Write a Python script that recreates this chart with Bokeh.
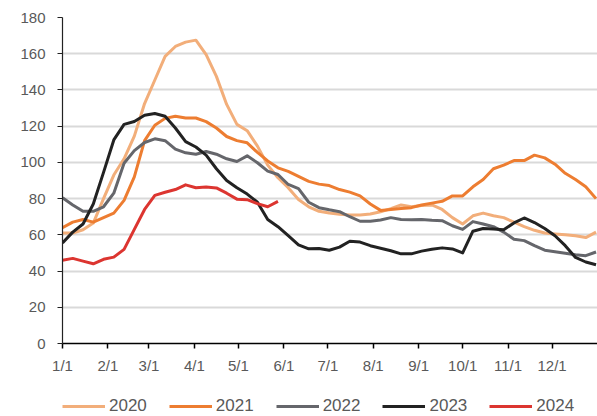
from bokeh.plotting import figure
from bokeh.models import Range1d, FixedTicker, Legend, LegendItem
from bokeh.layouts import column
from bokeh.embed import file_html
from bokeh.resources import INLINE

# weekly observations, x = day of year
weeks = [0, 7, 14, 21, 28, 35, 42, 49, 56, 63, 70, 77, 84, 91, 98, 105, 112, 119, 126,
         133, 140, 147, 154, 161, 168, 175, 182, 189, 196, 203, 210, 217, 224, 231, 238,
         245, 252, 259, 266, 273, 280, 287, 294, 301, 308, 315, 322, 329, 336, 343, 350,
         357, 364]

s2020 = [61, 61, 62.8, 66.5, 80, 93, 102, 114.5, 132.5, 145.5, 158.5, 164, 166.4, 167.5,
         159.5, 147.5, 132, 121, 117.5, 109, 98.5, 91.5, 86, 79.5, 75.5, 73, 72, 71.4, 71,
         71, 71.5, 72.7, 74.5, 76.5, 75.5, 76.2, 76.5, 74, 69.5, 66, 70.5, 72, 70.5, 69.5,
         67, 64.5, 62.5, 61, 60.5, 60, 59.5, 58.5, 61.5]
s2021 = [64, 67, 68.5, 67, 69.5, 72, 79, 92, 112, 120.5, 124.3, 125.5, 124.5, 124.5,
         122.5, 119, 114.3, 112, 110.8, 105.5, 100.8, 97, 95, 92.3, 89.5, 88, 87.2, 85,
         83.6, 81.5, 77, 73.5, 74, 74.5, 75, 76.5, 77.5, 78.5, 81.5, 81.5, 86.5, 90.5,
         96.5, 98.5, 101, 101, 104, 102.5, 99, 94, 90.5, 86.5, 80]
s2022 = [80.5, 76.5, 73, 73, 75.5, 83, 99.5, 106.5, 111, 113, 112, 107.3, 105.3, 104.5,
         106, 104.5, 102, 100.5, 103.6, 99.8, 95.2, 93.3, 87.8, 85.5, 78, 75, 73.8, 72.8,
         70, 67.5, 67.5, 68.2, 69.5, 68.5, 68.3, 68.5, 68, 67.8, 65, 63, 67.3, 66, 64.5,
         61.5, 57.6, 56.8, 54, 51.5, 50.7, 49.8, 49, 48.5, 50.5]
s2023 = [55.5, 61.5, 66, 77, 94.5, 112.4, 121, 122.6, 126, 127, 125.5, 119, 111.5, 108.5,
         104, 96.5, 90, 86, 82.5, 78, 68.5, 64.5, 59.5, 54.5, 52.3, 52.5, 51.5, 53.2, 56.5,
         56, 54, 52.6, 51.2, 49.5, 49.5, 51, 52, 52.8, 52.2, 50, 62, 63.5, 63.2, 62.8,
         66.6, 69.3, 66.8, 63.5, 59.5, 54, 47.5, 45, 43.5]
s2024 = [46, 47, 45.5, 44, 46.5, 47.7, 52, 63, 74, 81.8, 83.5, 85, 87.6, 86, 86.4, 85.9,
         83, 79.7, 79.4, 77.2, 75.5, 78.5]

years = ["2020", "2021", "2022", "2023", "2024"]
series = [s2020, s2021, s2022, s2023, s2024]
colors = ["#F2AE7A", "#ED7D31", "#65666B", "#222222", "#DC3530"]

month_ticks = [0, 31, 59, 90, 120, 151, 181, 212, 243, 273, 304, 334]
month_labels = ["1/1", "2/1", "3/1", "4/1", "5/1", "6/1", "7/1", "8/1", "9/1", "10/1",
                "11/1", "12/1"]
y_ticks = [0, 20, 40, 60, 80, 100, 120, 140, 160, 180]

FONT = "Liberation Sans"
TXT = "#595959"

p = figure(width=597, height=376, output_backend="svg", toolbar_location=None,
           x_range=Range1d(0, 365), y_range=Range1d(0, 180),
           min_border_left=62, min_border_right=0, min_border_top=17,
           min_border_bottom=31)
p.outline_line_color = None
p.background_fill_color = "white"
p.border_fill_color = "white"

for s, c in zip(series, colors):
    p.line(weeks[:len(s)], s, line_color=c, line_width=3, line_join="round")

# axes
p.xaxis.ticker = FixedTicker(ticks=month_ticks)
p.xaxis.major_label_overrides = {t: l for t, l in zip(month_ticks, month_labels)}
p.xaxis.minor_tick_line_color = None
p.xaxis.major_tick_in = 0
p.xaxis.major_tick_out = 5
p.xaxis.axis_line_color = "#000000"
p.xaxis.axis_line_width = 1.5
p.xaxis.major_tick_line_color = "#000000"
p.xaxis.major_tick_line_width = 1.5
p.xaxis.major_label_standoff = 8
p.xaxis.major_label_text_font = FONT
p.xaxis.major_label_text_font_size = "15px"
p.xaxis.major_label_text_color = TXT

p.yaxis.ticker = FixedTicker(ticks=y_ticks)
p.yaxis.minor_tick_line_color = None
p.yaxis.major_tick_in = 0
p.yaxis.major_tick_out = 5
p.yaxis.axis_line_color = "#222222"
p.yaxis.axis_line_width = 1.2
p.yaxis.major_tick_line_color = "#222222"
p.yaxis.major_tick_line_width = 1.2
p.yaxis.major_label_standoff = 12
p.yaxis.major_label_text_font = FONT
p.yaxis.major_label_text_font_size = "15px"
p.yaxis.major_label_text_color = TXT

p.xgrid.grid_line_color = None
p.ygrid.ticker = FixedTicker(ticks=y_ticks)
p.ygrid.grid_line_color = "#D9D9D9"
p.ygrid.grid_line_width = 2

# legend strip below the chart (its frame is aligned with the chart frame)
lg = figure(width=597, height=40, output_backend="svg", toolbar_location=None,
            x_range=Range1d(1000, 1001), y_range=Range1d(1000, 1001),
            x_axis_location=None, y_axis_location=None,
            min_border_left=0, min_border_right=0, min_border_top=0,
            min_border_bottom=0)
lg.outline_line_color = None
lg.grid.visible = False
items = []
for yr, s, c in zip(years, series, colors):
    r = lg.line(weeks[:len(s)], s, line_color=c, line_width=3)
    items.append(LegendItem(label=yr, renderers=[r]))

legend = Legend(items=items, orientation="horizontal", location=(0, 0),
                label_text_font=FONT, label_text_font_size="17px",
                label_text_color=TXT, glyph_width=43, glyph_height=16,
                label_standoff=4, spacing=22, padding=0, margin=0,
                border_line_color=None, background_fill_alpha=0)
lg.add_layout(legend, "center")

open("out.html", "w").write(file_html(column(p, lg, spacing=0), INLINE))
